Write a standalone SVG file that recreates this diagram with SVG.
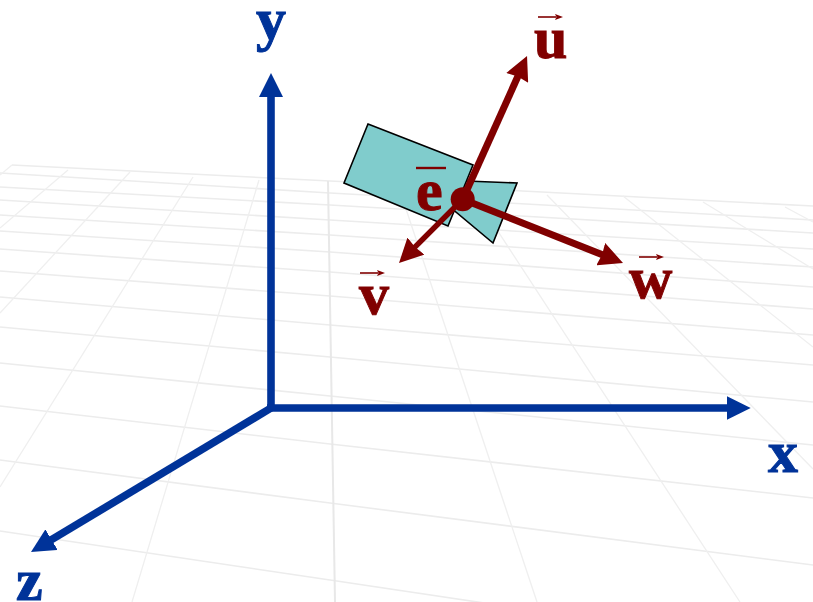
<svg xmlns="http://www.w3.org/2000/svg" width="813" height="602" viewBox="0 0 813 602">
  <style>
    .g{fill:none;stroke:#ececec;stroke-width:1.6}
    .d{fill:none;stroke:#efefef;stroke-width:1.3}
    .c{fill:none;stroke:#e8e8e8;stroke-width:2}
    .ax{fill:none;stroke:#003399;stroke-width:7.6;marker-end:url(#hb)}
    .vec{fill:none;stroke:#800000;marker-end:url(#hr)}
    .plane{fill:#80cccc;stroke:#000;stroke-width:1.6;stroke-linejoin:miter}
    .bl{font:bold 60px "Liberation Serif","Times New Roman",serif;fill:#003399;stroke:#003399;stroke-width:1}
    .rd{font:bold 60px "Liberation Serif","Times New Roman",serif;fill:#800000;stroke:#800000;stroke-width:1}
    .acc{fill:none;stroke:#800000;stroke-width:1.6;marker-end:url(#ha)}
    .bar{fill:none;stroke:#800000;stroke-width:2.4}
  </style>
  <defs>
    <marker id="hb" markerUnits="userSpaceOnUse" markerWidth="24" markerHeight="24" viewBox="0 0 24 24" refX="10" refY="12" orient="auto">
      <path d="M0,0L24,12L0,24z" fill="#003399"/>
    </marker>
    <marker id="hr" markerUnits="userSpaceOnUse" markerWidth="24" markerHeight="24" viewBox="0 0 24 24" refX="10" refY="12" orient="auto">
      <path d="M0,0L24,12L0,24L1.5,12z" fill="#800000"/>
    </marker>
    <marker id="ha" markerUnits="userSpaceOnUse" markerWidth="8" markerHeight="6" viewBox="0 0 8 6" refX="1" refY="3" orient="auto">
      <path d="M0,0L8,3L0,6L1.5,3z" fill="#800000"/>
    </marker>
  </defs>
  <g id="grid">
    <polyline class="g" points="12,165 330,181 813,206"/>
    <polyline class="g" points="0,173 330,193 813,220"/>
    <polyline class="g" points="0,187 330,205 813,233"/>
    <polyline class="g" points="0,200 330,220 813,249"/>
    <polyline class="g" points="0,215 330,235 813,267"/>
    <polyline class="g" points="0,231 330,252 813,287"/>
    <polyline class="g" points="0,249 330,272 813,309"/>
    <polyline class="g" points="0,271 330,296 813,335"/>
    <polyline class="g" points="0,297 330,325 813,365"/>
    <polyline class="g" points="0,327 330,357 813,402"/>
    <polyline class="g" points="0,363 330,396 813,445"/>
    <polyline class="g" points="0,406 330,444 813,498"/>
    <polyline class="g" points="0,460 330,503 813,565"/>
    <polyline class="g" points="0,531 330,580 813,652"/>
    <line class="d" x1="12" y1="165" x2="0" y2="175"/>
    <line class="d" x1="68" y1="170" x2="0" y2="228"/>
    <line class="d" x1="130" y1="172" x2="0" y2="313"/>
    <line class="d" x1="193" y1="177" x2="0" y2="487"/>
    <line class="d" x1="259" y1="180" x2="132" y2="602"/>
    <line class="c" x1="328" y1="181" x2="335" y2="602"/>
    <line class="d" x1="398" y1="185" x2="537" y2="602"/>
    <line class="d" x1="469" y1="187" x2="740" y2="602"/>
    <line class="d" x1="547" y1="195" x2="813" y2="469"/>
    <line class="d" x1="623" y1="196" x2="813" y2="347"/>
    <line class="d" x1="703" y1="202" x2="813" y2="269"/>
    <line class="d" x1="785" y1="207" x2="813" y2="222"/>
  </g>
  <g id="plane-back"><polygon class="plane" points="460,180.7 517,183 493,243 450,207"/></g>
  <g id="plane-front"><polygon class="plane" points="368,124 473,165 448,226 344,183"/></g>
  <g id="connectors">
    <line class="ax" x1="271" y1="408" x2="271" y2="87"/>
    <line class="ax" x1="267" y1="408" x2="736.7" y2="408"/>
    <line class="ax" x1="271" y1="408" x2="43" y2="544.8"/>
    <line class="vec" stroke-width="7" x1="462.7" y1="199.3" x2="521.3" y2="68.8"/>
    <line class="vec" stroke-width="5.5" x1="462.7" y1="199.3" x2="408.9" y2="253.1"/>
    <line class="vec" stroke-width="7" x1="462.7" y1="199.3" x2="610" y2="257.8"/>
  </g>
  <g id="eye">
    <circle cx="462.7" cy="199.3" r="12" fill="#800000"/>
    <text class="rd" x="416" y="210">e</text>
    <line class="bar" x1="416" y1="168" x2="446" y2="168"/>
  </g>
  <g id="axis-y"><text class="bl" x="256" y="39">y</text></g>
  <g id="axis-x"><text class="bl" x="768" y="472">x</text></g>
  <g id="axis-z"><text class="bl" x="16" y="600">z</text></g>
  <g id="vec-u">
    <text class="rd" x="534" y="58">u</text>
    <line class="acc" x1="538" y1="17" x2="556" y2="17"/>
  </g>
  <g id="vec-v">
    <text class="rd" x="359" y="314">v</text>
    <line class="acc" x1="360" y1="273" x2="378" y2="273"/>
  </g>
  <g id="vec-w">
    <text class="rd" x="629" y="298">w</text>
    <line class="acc" x1="639" y1="257" x2="657" y2="257"/>
  </g>
</svg>
